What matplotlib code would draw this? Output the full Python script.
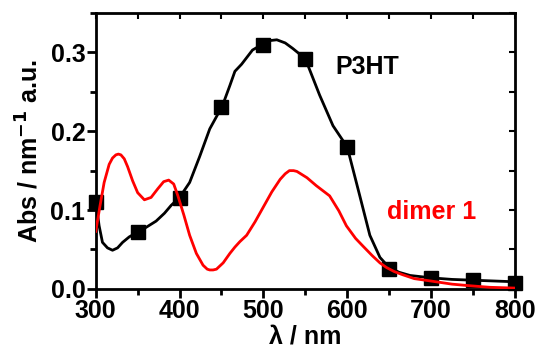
import matplotlib
matplotlib.use("Agg")
import matplotlib.pyplot as plt
from matplotlib.ticker import MultipleLocator

plt.rcParams['font.family'] = ['Liberation Sans Narrow', 'Liberation Sans', 'DejaVu Sans']
plt.rcParams['mathtext.fontset'] = 'custom'
plt.rcParams['mathtext.rm'] = 'Liberation Sans Narrow'
plt.rcParams['mathtext.bf'] = 'Liberation Sans Narrow:bold'

# P3HT absorption (line)
p3ht_wl = [300, 304, 308, 314, 320, 326, 332, 340, 350, 360, 372, 382, 390, 400,
           412, 424, 436, 451, 460, 466, 474, 487, 500, 508, 516, 526, 535, 550,
           567, 583, 600, 615, 627, 639, 650, 662, 675, 700, 725, 750, 775, 800]
p3ht_abs = [0.112, 0.080, 0.059, 0.052, 0.049, 0.052, 0.059, 0.066, 0.072, 0.078,
            0.086, 0.096, 0.106, 0.116, 0.135, 0.168, 0.203, 0.232, 0.258, 0.276,
            0.285, 0.303, 0.311, 0.315, 0.316, 0.312, 0.305, 0.292, 0.246, 0.207,
            0.180, 0.118, 0.068, 0.040, 0.027, 0.021, 0.017, 0.014, 0.012, 0.011,
            0.010, 0.009]
# P3HT markers
mark_wl = [300, 350, 400, 450, 500, 550, 600, 650, 700, 750, 800]
mark_abs = [0.110, 0.072, 0.115, 0.231, 0.310, 0.292, 0.180, 0.025, 0.014, 0.011, 0.008]

# dimer 1 absorption
dimer_wl = [300, 305, 310, 316, 320, 324, 327, 330, 334, 338, 344, 350, 358, 366, 374, 381,
            387, 393, 398, 405, 412, 420, 428, 433, 436, 440, 444, 452, 460, 466, 472, 480,
            490, 500, 510, 520, 526, 531, 536, 540, 552, 563, 579, 590, 599, 610, 619, 630,
            639, 647, 656, 666, 680, 706, 725, 746, 770, 800]
dimer_abs = [0.073, 0.105, 0.135, 0.158, 0.166, 0.170, 0.171, 0.170, 0.165, 0.155, 0.137, 0.122,
             0.113, 0.116, 0.127, 0.136, 0.138, 0.133, 0.118, 0.094, 0.068, 0.045,
             0.030, 0.025, 0.024, 0.024, 0.025, 0.033, 0.045, 0.053, 0.060, 0.068, 0.085, 0.104,
             0.123, 0.139, 0.146, 0.150, 0.150, 0.149, 0.141, 0.131, 0.118, 0.099, 0.080, 0.064,
             0.054, 0.042, 0.033, 0.027, 0.022, 0.018, 0.013, 0.009, 0.006, 0.004,
             0.002, 0.001]

fig = plt.figure(figsize=(5.38, 3.51), dpi=100)
ax = fig.add_axes([0.178, 0.177, 0.779, 0.786])

ax.plot(p3ht_wl, p3ht_abs, color='black', lw=2.0)
ax.plot(mark_wl, mark_abs, ls='none', marker='s', ms=10.5, color='black', clip_on=False, zorder=3)
ax.plot(dimer_wl, dimer_abs, color='red', lw=2.0, zorder=4)

ax.set_xlim(300, 800)
ax.set_ylim(0, 0.35)
ax.xaxis.set_major_locator(MultipleLocator(100))
ax.xaxis.set_minor_locator(MultipleLocator(50))
ax.yaxis.set_major_locator(MultipleLocator(0.1))
ax.yaxis.set_minor_locator(MultipleLocator(0.05))
ax.yaxis.set_major_formatter(plt.FuncFormatter(lambda v, p: f"{v:.1f}"))

for s in ax.spines.values():
    s.set_linewidth(2.0)
ax.tick_params(which='major', direction='out', length=6.5, width=2, labelsize=18, pad=1)
ax.tick_params(which='minor', direction='out', length=4.5, width=2)
for lab in ax.get_xticklabels() + ax.get_yticklabels():
    lab.set_fontweight('bold')

# inward ticks on top and right
top = ax.secondary_xaxis('top')
top.xaxis.set_major_locator(MultipleLocator(100))
top.xaxis.set_minor_locator(MultipleLocator(50))
top.tick_params(which='both', direction='in', length=4, width=1.5, labeltop=False)
right = ax.secondary_yaxis('right')
right.yaxis.set_major_locator(MultipleLocator(0.1))
right.yaxis.set_minor_locator(MultipleLocator(0.05))
right.tick_params(which='both', direction='in', length=4, width=1.5, labelright=False)

ax.set_xlabel('λ / nm', fontsize=18, fontweight='bold', labelpad=1)
ax.set_ylabel(r'Abs / nm$^{\mathbf{-1}}$ a.u.', fontsize=18, fontweight='bold', labelpad=5)

ax.text(586, 0.282, 'P3HT', fontsize=18, fontweight='bold', color='black', va='center')
ax.text(647, 0.098, 'dimer 1', fontsize=18, fontweight='bold', color='red', va='center')

fig.savefig('out.png', dpi=100)
